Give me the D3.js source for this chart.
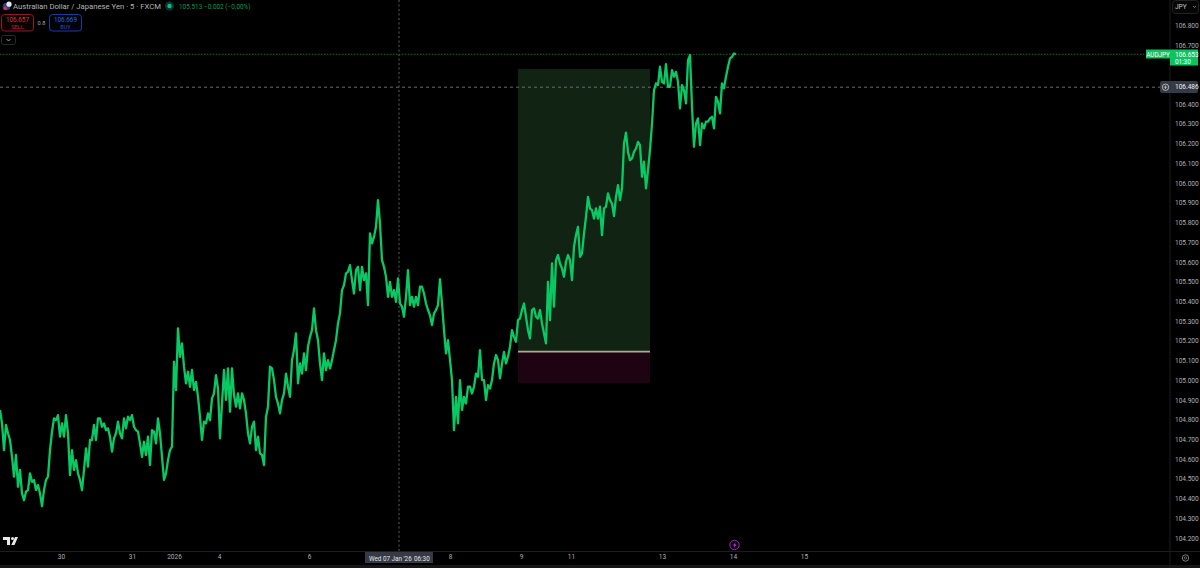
<!DOCTYPE html>
<html>
<head>
<meta charset="utf-8">
<title>AUDJPY</title>
<script src="https://cdn.jsdelivr.net/npm/d3@7"></script>
<style>
  html, body { margin: 0; padding: 0; background: #000; overflow: hidden; }
  text { font-family: Roboto, "Liberation Sans", sans-serif; }
</style>
</head>
<body>
<div id="chart"></div>
<script>
// Close prices, one sample every 8 five-minute bars
const closes = [
  104.849,104.781,104.646,104.773,104.731,104.697,104.612,104.511,104.621,104.460,
  104.545,104.426,104.392,104.435,104.443,104.528,104.485,104.494,104.443,104.469,
  104.426,104.362,104.443,104.494,104.511,104.646,104.739,104.807,104.798,104.823,
  104.714,104.781,104.714,104.823,104.731,104.519,104.646,104.545,104.595,104.528,
  104.494,104.443,104.545,104.654,104.562,104.697,104.697,104.773,104.697,104.807,
  104.807,104.764,104.781,104.747,104.756,104.714,104.638,104.705,104.731,104.790,
  104.731,104.705,104.807,104.756,104.815,104.798,104.823,104.764,104.747,104.739,
  104.680,104.612,104.688,104.621,104.714,104.570,104.747,104.739,104.680,104.807,
  104.731,104.612,104.494,104.528,104.595,104.646,104.663,105.094,104.950,105.263,
  105.119,105.187,105.069,104.984,105.043,104.967,105.052,104.950,104.992,104.916,
  104.815,104.697,104.790,104.781,104.832,104.798,104.908,104.933,105.026,104.959,
  104.705,104.883,105.052,104.900,105.060,104.840,105.060,104.925,104.866,104.933,
  104.857,104.933,104.900,104.832,104.731,104.680,104.764,104.790,104.646,104.714,
  104.629,104.621,104.570,104.815,104.866,105.069,
  105.060,105.001,104.916,104.882,104.832,104.899,104.933,105.034,104.967,104.916,
  105.102,105.153,105.237,104.984,105.085,105.034,105.136,105.051,105.170,105.220,
  105.254,105.364,105.254,105.203,105.085,105.001,105.136,105.051,105.102,105.060,
  105.102,105.153,105.203,105.288,105.339,105.457,105.482,105.542,105.550,105.584,
  105.508,105.440,105.558,105.575,105.457,105.575,105.508,105.542,105.381,105.744,
  105.694,105.727,105.778,105.913,105.795,105.609,105.575,105.525,105.423,105.499,
  105.423,105.457,105.398,105.516,105.389,105.373,105.322,105.423,105.558,105.381,
  105.423,105.373,105.423,105.381,105.474,105.474,105.440,105.389,105.356,105.330,
  105.280,105.339,105.356,105.381,105.513,105.389,105.254,105.136,105.203,105.102,
  105.001,104.747,104.916,104.781,105.001,104.849,104.916,104.882,104.967,104.967,
  104.933,104.967,105.034,105.018,105.153,105.001,105.001,104.899,104.975,104.958,
  105.001,105.085,105.128,105.102,105.009,105.085,105.144,105.085,105.119,105.170,
  105.254,105.220,105.195,105.305,105.313,105.356,105.389,105.322,105.254,
  105.212,105.356,105.364,105.322,105.313,105.356,105.288,105.237,105.187,105.499,
  105.305,105.592,105.373,105.609,105.635,105.592,105.567,105.525,105.601,105.635,
  105.609,105.508,105.677,105.736,105.778,105.626,105.643,105.744,105.829,105.930,
  105.871,105.863,105.820,105.871,105.820,105.880,105.736,105.871,105.880,105.947,
  105.913,105.896,105.832,105.930,105.989,105.913,105.973,106.201,106.255,106.158,
  106.116,106.125,106.158,106.175,106.209,106.192,106.032,106.108,105.973,106.065,
  106.167,106.302,
  106.471,106.505,106.497,106.590,106.513,106.505,106.603,106.488,106.488,106.573,
  106.539,106.564,106.513,106.378,106.497,106.471,106.404,106.623,106.649,106.387,
  106.184,106.302,106.328,106.192,106.302,106.277,106.311,106.311,106.328,106.336,
  106.277,106.437,106.412,106.353,106.505,106.480,106.539,106.590,106.632,106.640,
  106.657,106.653
];

// Time axis, positions in the same sample units as closes
const dateTicks = [30.5, 66, 87, 109.5, 154.5, 225, 260.5, 285.5, 331, 366.5, 402];
const dateLabels = ['30', '31', '2026', '4', '6', '8', '9', '11', '13', '14', '15'];

// Price axis (106.600 and 106.500 sit behind the price labels)
const priceTicks = [
  106.8, 106.7, 106.4, 106.3, 106.2, 106.1, 106.0, 105.9, 105.8, 105.7, 105.6, 105.5, 105.4, 105.3,
  105.2, 105.1, 105.0, 104.9, 104.8, 104.7, 104.6, 104.5, 104.4, 104.3, 104.2
];

// Long position drawing
const positionStart = 259;
const positionEnd = 325;
const targetPrice = 106.578;
const entryPrice = 105.145;
const stopPrice = 104.985;

const lastPrice = 106.653;
const crossPrice = 106.486;
const crossSample = 199.5;

const width = 1200;
const height = 568;
const plotRight = 1170;
const plotBottom = 551;

const green = '#0ac863';

const x = d3.scaleLinear().domain([0, 585]).range([0, plotRight]);
const y = d3.scaleLinear().domain([104.2, 106.7]).range([538, 45]);

const svg = d3.select('#chart')
  .append('svg')
  .attr('width', width)
  .attr('height', height)
  .style('display', 'block')
  .style('background', '#000');

// Position boxes
svg.append('rect')
  .attr('x', x(positionStart)).attr('y', y(targetPrice))
  .attr('width', x(positionEnd) - x(positionStart))
  .attr('height', y(entryPrice) - y(targetPrice))
  .attr('fill', '#112313');
svg.append('rect')
  .attr('x', x(positionStart)).attr('y', y(entryPrice))
  .attr('width', x(positionEnd) - x(positionStart))
  .attr('height', y(stopPrice) - y(entryPrice))
  .attr('fill', '#1e0412');
svg.append('line')
  .attr('x1', x(positionStart)).attr('x2', x(positionEnd))
  .attr('y1', y(entryPrice)).attr('y2', y(entryPrice))
  .attr('stroke', '#aeab90').attr('stroke-width', 1.6);

// Crosshair and last price lines
svg.append('line')
  .attr('x1', x(crossSample)).attr('x2', x(crossSample))
  .attr('y1', 0).attr('y2', plotBottom)
  .attr('stroke', '#5e5e5e').attr('stroke-width', 1)
  .attr('stroke-dasharray', '2 2.5');
svg.append('line')
  .attr('x1', 0).attr('x2', 1160)
  .attr('y1', y(crossPrice)).attr('y2', y(crossPrice))
  .attr('stroke', '#6c6c6c').attr('stroke-width', 1)
  .attr('stroke-dasharray', '3 3');
svg.append('line')
  .attr('x1', 0).attr('x2', 1146)
  .attr('y1', y(lastPrice)).attr('y2', y(lastPrice))
  .attr('stroke', '#0a6a36').attr('stroke-width', 1)
  .attr('stroke-dasharray', '1.5 1.5');

// Price line
const line = d3.line()
  .x((d, i) => x(i))
  .y(d => y(d));

svg.append('path')
  .datum(closes)
  .attr('d', line)
  .attr('fill', 'none')
  .attr('stroke', green)
  .attr('stroke-width', 2.3)
  .attr('stroke-linejoin', 'round');

// Axis separators
svg.append('line').attr('x1', plotRight).attr('x2', plotRight)
  .attr('y1', 0).attr('y2', 565).attr('stroke', '#1c1c1c');
svg.append('line').attr('x1', 0).attr('x2', width)
  .attr('y1', plotBottom + 0.5).attr('y2', plotBottom + 0.5).attr('stroke', '#1c1c1c');
svg.append('rect').attr('x', 0).attr('y', 565).attr('width', width).attr('height', 3)
  .attr('fill', '#161616');

// Price axis
const yAxis = d3.axisRight(y)
  .tickValues(priceTicks)
  .tickFormat(d3.format('.3f'))
  .tickSize(0)
  .tickPadding(5);
const yAxisG = svg.append('g')
  .attr('transform', `translate(${plotRight},0)`)
  .call(yAxis);
yAxisG.select('.domain').remove();
yAxisG.selectAll('text').attr('fill', '#b0b0b0').attr('font-size', 6.5);

// Time axis
const xAxis = d3.axisBottom(x)
  .tickValues(dateTicks)
  .tickFormat((d, i) => dateLabels[i])
  .tickSize(0)
  .tickPadding(3);
const xAxisG = svg.append('g')
  .attr('transform', `translate(0,${plotBottom})`)
  .call(xAxis);
xAxisG.select('.domain').remove();
xAxisG.selectAll('text').attr('fill', '#b0b0b0').attr('font-size', 6.5);

function label(txt, px, py, color, size, anchor, weight) {
  return svg.append('text')
    .attr('x', px).attr('y', py)
    .attr('fill', color)
    .attr('font-size', size)
    .attr('text-anchor', anchor || 'start')
    .attr('font-weight', weight || 'normal')
    .text(txt);
}

// Crosshair date label
svg.append('rect').attr('x', 365).attr('y', 552).attr('width', 68).attr('height', 11)
  .attr('fill', '#363a45');
label('Wed 07 Jan \'26', 369, 560.5, '#e4e4e4', 6.3);
label('06:30', 414, 560.5, '#e4e4e4', 6.3);

// Last price labels
svg.append('rect').attr('x', 1146).attr('y', 49.5).attr('width', 24).attr('height', 9)
  .attr('fill', '#0cc45f');
label('AUDJPY', 1158, 56.5, '#fff', 6.3, 'middle');
svg.append('rect').attr('x', 1170).attr('y', 49.5).attr('width', 28).attr('height', 16)
  .attr('fill', '#0cc45f');
label(d3.format('.3f')(lastPrice), 1175, 56.5, '#fff', 6.5);
label('01:30', 1175, 63.5, '#fff', 6.3);

// Crosshair price label
svg.append('rect').attr('x', 1160).attr('y', 81).attr('width', 38).attr('height', 12)
  .attr('rx', 2).attr('fill', '#363a45');
svg.append('circle').attr('cx', 1165.5).attr('cy', y(crossPrice)).attr('r', 3.2)
  .attr('fill', 'none').attr('stroke', '#d0d0d0').attr('stroke-width', 0.8);
svg.append('path').attr('d', `M1163.7,${y(crossPrice)}h3.6M1165.5,${y(crossPrice) - 1.8}v3.6`)
  .attr('stroke', '#d0d0d0').attr('stroke-width', 0.7);
label(d3.format('.3f')(crossPrice), 1175, 89.3, '#f0f0f0', 6.5);

// Currency button
svg.append('rect').attr('x', 1172.5).attr('y', 0.5).attr('width', 26).attr('height', 13)
  .attr('rx', 3).attr('fill', '#060606').attr('stroke', '#222');
label('JPY', 1175, 9, '#c8c8c8', 6.5);
svg.append('path').attr('d', 'M1193,6l1.5,1.5l1.5,-1.5').attr('fill', 'none').attr('stroke', '#aaa').attr('stroke-width', 0.7);

// Symbol header
svg.append('circle').attr('cx', 6.5).attr('cy', 6.5).attr('r', 3.8).attr('fill', '#24408e');
svg.append('circle').attr('cx', 5.2).attr('cy', 8.2).attr('r', 1.8).attr('fill', '#d8343f');
svg.append('circle').attr('cx', 9).attr('cy', 4.2).attr('r', 2.6).attr('fill', '#e8e8e8');
label('Australian Dollar / Japanese Yen · 5 · FXCM', 13, 9.2, '#b4b4b4', 7.7);
svg.append('circle').attr('cx', 169.5).attr('cy', 6).attr('r', 4.5).attr('fill', '#07382c');
svg.append('circle').attr('cx', 169.5).attr('cy', 6).attr('r', 2.2).attr('fill', '#12b88c');
label('105.513', 179, 9.2, '#0b9a55', 6.4);
label('−0.002 (−0.00%)', 204, 9.2, '#0b9a55', 6.4);

// Sell and buy buttons
svg.append('rect').attr('x', 1.5).attr('y', 14.5).attr('width', 32).attr('height', 16.5)
  .attr('rx', 3).attr('fill', '#0c0103').attr('stroke', '#8c1c26');
label('106.657', 17.5, 22, '#e02c38', 6.3, 'middle');
label('SELL', 17.5, 29, '#c02630', 5.6, 'middle');
label('0.8', 41.5, 25, '#a8a8a8', 5.6, 'middle');
svg.append('rect').attr('x', 49.5).attr('y', 14.5).attr('width', 32).attr('height', 16.5)
  .attr('rx', 3).attr('fill', '#01030c').attr('stroke', '#1c3c9c');
label('106.669', 65.5, 22, '#2c62e8', 6.3, 'middle');
label('BUY', 65.5, 29, '#2650c0', 5.6, 'middle');
svg.append('rect').attr('x', 1.5).attr('y', 35.5).attr('width', 14).attr('height', 9)
  .attr('rx', 2).attr('fill', 'none').attr('stroke', '#2a2a2a');
svg.append('path').attr('d', 'M6.5,39l2,2l2,-2').attr('fill', 'none').attr('stroke', '#c0c0c0').attr('stroke-width', 0.8);

// TV logo
svg.append('path')
  .attr('d', 'M3,537h7v8h-3v-5h-4zM15,537h3l-3.5,8h-3.2z')
  .attr('fill', '#e8e8e8');
svg.append('circle').attr('cx', 12.5).attr('cy', 538.6).attr('r', 1.5).attr('fill', '#e8e8e8');

// Event marker
svg.append('circle').attr('cx', 734.5).attr('cy', 545).attr('r', 4.7)
  .attr('fill', '#120516').attr('stroke', '#8e2ea8').attr('stroke-width', 1);
svg.append('path').attr('d', 'M735.6,542.2l-2.6,3.2h1.6l-0.8,2.6l2.6,-3.4h-1.6z')
  .attr('fill', '#b04ccc');

// Settings button
svg.append('circle').attr('cx', 1185.5).attr('cy', 558).attr('r', 3.2)
  .attr('fill', 'none').attr('stroke', '#999').attr('stroke-width', 0.8);
svg.append('circle').attr('cx', 1185.5).attr('cy', 558).attr('r', 1.2)
  .attr('fill', 'none').attr('stroke', '#999').attr('stroke-width', 0.6);
</script>
</body>
</html>
